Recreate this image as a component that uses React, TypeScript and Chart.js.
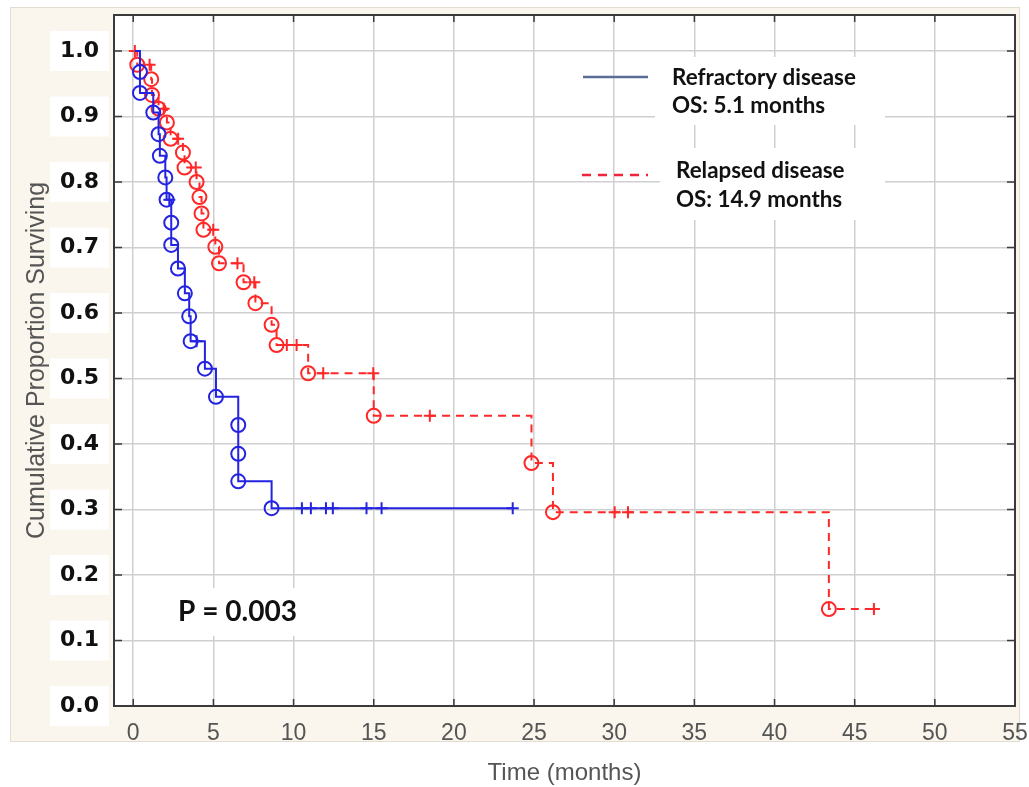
import React, { useEffect, useRef } from "react";
import { Chart, registerables } from "chart.js";

Chart.register(...registerables);

// ---- Data ----
// marker codes: "s" = start (no marker), "e" = event (circle), "c" = censored (cross)
const refractoryTime = [0.1, 0.42, 0.42, 1.25, 1.58, 1.66, 2.0, 2.08, 2.25, 2.37, 2.37, 2.79, 3.22, 3.49, 3.58, 3.95, 4.47, 5.16, 6.55, 6.55, 6.55, 8.63, 10.52, 11.08, 12.02, 12.45, 14.55, 15.49, 23.67];
const refractorySurv = [1.0, 0.968, 0.936, 0.906, 0.873, 0.84, 0.807, 0.773, 0.773, 0.738, 0.704, 0.668, 0.63, 0.595, 0.557, 0.557, 0.515, 0.472, 0.429, 0.385, 0.343, 0.302, 0.302, 0.302, 0.302, 0.302, 0.302, 0.302, 0.302];
const refractoryMark = ["s", "e", "e", "e", "e", "e", "e", "e", "c", "e", "e", "e", "e", "e", "e", "c", "e", "e", "e", "e", "e", "e", "c", "c", "c", "c", "c", "c", "c"];

const relapsedTime = [0.1, 0.25, 1.02, 1.12, 1.17, 1.58, 1.9, 2.1, 2.33, 2.8, 3.1, 3.2, 3.9, 3.95, 4.13, 4.26, 4.38, 4.99, 5.12, 5.35, 6.5, 6.88, 7.55, 7.62, 8.63, 8.94, 9.58, 10.19, 10.91, 11.85, 14.97, 15.0, 18.5, 24.84, 26.18, 30.03, 30.86, 43.39, 46.2];
const relapsedSurv = [1.0, 0.979, 0.979, 0.957, 0.933, 0.912, 0.912, 0.891, 0.866, 0.866, 0.845, 0.822, 0.822, 0.8, 0.777, 0.752, 0.727, 0.727, 0.701, 0.676, 0.676, 0.647, 0.647, 0.615, 0.582, 0.551, 0.551, 0.551, 0.508, 0.508, 0.508, 0.443, 0.443, 0.371, 0.296, 0.296, 0.296, 0.148, 0.148];
const relapsedMark = ["c", "e", "c", "e", "e", "e", "c", "e", "e", "c", "e", "e", "c", "e", "e", "e", "e", "c", "e", "e", "c", "e", "c", "e", "e", "e", "c", "c", "e", "c", "c", "e", "c", "e", "e", "c", "c", "e", "c"];

const seriesNames = ["Refractory disease", "Relapsed disease"];
const seriesMedians = ["OS: 5.1 months", "OS: 14.9 months"];
const pValueText = "P = 0.003";
const xTitle = "Time (months)";
const yTitle = "Cumulative Proportion Surviving";
const xMin = -1.2;
const xMax = 55;
const xStep = 5;
const yMin = 0;
const yMax = 1.055;
const yStep = 0.1;

const BLUE = "rgb(35,35,225)";
const RED = "rgb(255,40,40)";
const GRID = "#cfcfcf";
const FRAME = "#3a3a3a";
const PANEL = "#faf6ed";
const SANS = "'Liberation Sans', Arial, sans-serif";
const LEGEND_FONT = "Lato, 'Open Sans', sans-serif";

function fitSize(ctx: CanvasRenderingContext2D, text: string, font: string, target: number) {
  ctx.font = `bold 100px ${font}`;
  return (100 * target) / ctx.measureText(text).width;
}

const decorPlugin = {
  id: "decor",
  beforeDraw(chart: any) {
    const { ctx, chartArea: a, width, height } = chart;
    ctx.save();
    ctx.fillStyle = "#ffffff";
    ctx.fillRect(0, 0, width, height);
    ctx.fillStyle = PANEL;
    ctx.fillRect(10, 7, 1010, 735);
    ctx.strokeStyle = "#e2ddd0";
    ctx.lineWidth = 1;
    ctx.strokeRect(10.5, 7.5, 1009, 734);
    ctx.fillStyle = "#ffffff";
    ctx.fillRect(a.left, a.top, a.right - a.left, a.bottom - a.top);
    const ys = chart.scales.y;
    ys.ticks.forEach((t: any) => {
      const py = ys.getPixelForValue(t.value);
      ctx.fillRect(50, py - 20, 59, 40);
    });
    ctx.restore();
  },
  beforeDatasetsDraw(chart: any) {
    const { ctx, chartArea: a } = chart;
    const xs = chart.scales.x;
    const ys = chart.scales.y;
    ctx.save();
    // white boxes behind legend and P value
    ctx.fillStyle = "#ffffff";
    ctx.fillRect(655, 57, 230, 68);
    ctx.fillRect(660, 148, 225, 72);
    ctx.fillRect(165, 588, 147, 48);
    // frame
    ctx.strokeStyle = FRAME;
    ctx.lineWidth = 2;
    ctx.strokeRect(a.left, a.top, a.right - a.left, a.bottom - a.top);
    // inner tick marks
    ctx.lineWidth = 1.5;
    ctx.beginPath();
    xs.ticks.forEach((t: any) => {
      const px = xs.getPixelForValue(t.value);
      if (px <= a.left + 1 || px >= a.right - 1) return;
      ctx.moveTo(px, a.bottom);
      ctx.lineTo(px, a.bottom - 7);
      ctx.moveTo(px, a.top);
      ctx.lineTo(px, a.top + 7);
    });
    ys.ticks.forEach((t: any) => {
      const py = ys.getPixelForValue(t.value);
      if (py >= a.bottom - 1 || py <= a.top + 1) return;
      ctx.moveTo(a.left, py);
      ctx.lineTo(a.left + 8, py);
      ctx.moveTo(a.right, py);
      ctx.lineTo(a.right - 8, py);
    });
    ctx.stroke();

    // legend
    const size = fitSize(ctx, seriesNames[0], LEGEND_FONT, 184);
    ctx.lineWidth = 2.5;
    ctx.strokeStyle = "#5a6e98";
    ctx.beginPath();
    ctx.moveTo(583, 77);
    ctx.lineTo(648, 77);
    ctx.stroke();
    ctx.strokeStyle = "rgb(240,35,55)";
    ctx.setLineDash([9, 7]);
    ctx.beginPath();
    ctx.moveTo(582, 175);
    ctx.lineTo(648, 175);
    ctx.stroke();
    ctx.setLineDash([]);
    ctx.fillStyle = "#111111";
    ctx.textAlign = "left";
    ctx.textBaseline = "alphabetic";
    ctx.font = `bold ${size}px ${LEGEND_FONT}`;
    ctx.fillText(seriesNames[0], 672, 85);
    ctx.fillText(seriesMedians[0], 672, 113);
    ctx.fillText(seriesNames[1], 676, 178);
    ctx.fillText(seriesMedians[1], 676, 207);

    // P value
    const pSize = fitSize(ctx, pValueText, LEGEND_FONT, 119);
    ctx.font = `bold ${pSize}px ${LEGEND_FONT}`;
    ctx.fillText(pValueText, 178, 621);
    ctx.restore();
  },
};

function toPoints(t: number[], s: number[]) {
  return t.map((x, i) => ({ x, y: s[i] }));
}

export default function App() {
  const ref = useRef<HTMLCanvasElement>(null);
  useEffect(() => {
    document.body.style.margin = "0";
    const canvas = ref.current;
    if (!canvas) return;
    const markStyle = (marks: string[]) => (c: any) => (marks[c.dataIndex] === "c" ? "cross" : "circle");
    const markRadius = (marks: string[]) => (c: any) =>
      marks[c.dataIndex] === "s" ? 0 : marks[c.dataIndex] === "c" ? 6 : 7;
    const chart = new Chart(canvas, {
      type: "line",
      data: {
        datasets: [
          {
            label: seriesNames[0],
            data: toPoints(refractoryTime, refractorySurv),
            stepped: "before",
            borderColor: BLUE,
            borderWidth: 2,
            pointBorderColor: BLUE,
            pointBackgroundColor: "rgba(255,255,255,0)",
            pointBorderWidth: 2,
            pointStyle: markStyle(refractoryMark) as any,
            pointRadius: markRadius(refractoryMark) as any,
            fill: false,
          },
          {
            label: seriesNames[1],
            data: toPoints(relapsedTime, relapsedSurv),
            stepped: "before",
            borderColor: RED,
            borderWidth: 2,
            borderDash: [8, 6],
            pointBorderColor: RED,
            pointBackgroundColor: "rgba(255,255,255,0)",
            pointBorderWidth: 2,
            pointStyle: markStyle(relapsedMark) as any,
            pointRadius: markRadius(relapsedMark) as any,
            fill: false,
          },
        ],
      },
      options: {
        responsive: false,
        animation: false,
        events: [],
        layout: { padding: { left: 0, top: 15, right: 14, bottom: 0 } },
        plugins: { legend: { display: false }, tooltip: { enabled: false } },
        scales: {
          x: {
            type: "linear",
            min: xMin,
            max: xMax,
            afterFit: (s: any) => {
              s.height = 81;
              s.paddingLeft = 0;
              s.paddingRight = 0;
            },
            ticks: {
              stepSize: xStep,
              includeBounds: false,
              autoSkip: false,
              maxRotation: 0,
              color: "#555555",
              padding: 14,
              font: { family: SANS, size: 23 },
            },
            grid: { color: GRID, lineWidth: 1.5, drawTicks: false },
            border: { display: false },
            title: {
              display: true,
              text: xTitle,
              color: "#555555",
              font: { family: SANS, size: 24, lineHeight: 1 },
              padding: { top: 0, bottom: 2 },
            },
          },
          y: {
            type: "linear",
            min: yMin,
            max: yMax,
            afterFit: (s: any) => {
              s.width = 114;
              s.paddingTop = 0;
              s.paddingBottom = 0;
            },
            ticks: {
              stepSize: yStep,
              includeBounds: false,
              color: "#111111",
              padding: 15,
              font: { family: "'DejaVu Sans', sans-serif", size: 22, weight: "bold" },
              callback: (v: any) => Number(v).toFixed(1),
            },
            grid: { color: GRID, lineWidth: 1.5, drawTicks: false },
            border: { display: false },
            title: {
              display: true,
              text: yTitle,
              color: "#555555",
              font: { family: SANS, size: 25, lineHeight: 1 },
              padding: { top: 25, bottom: 0 },
            },
          },
        },
      },
      plugins: [decorPlugin as any],
    });
    return () => chart.destroy();
  }, []);
  return (
    <div style={{ position: "absolute", left: 0, top: 0, width: 1029, height: 787, background: "#fff" }}>
      <canvas ref={ref} width={1029} height={787} style={{ display: "block", width: 1029, height: 787 }} />
    </div>
  );
}
